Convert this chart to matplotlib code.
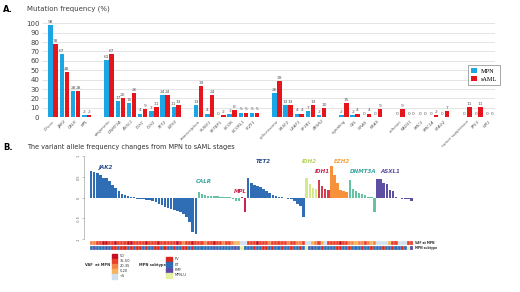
import numpy as np
import matplotlib.pyplot as plt
from matplotlib.patches import Rectangle

W, H = 520, 292

# ---------------- panel A data ----------------
groups = [
    ["Driver", "JAK2", "CALR", "MPL"],
    ["epigenetic", "DNMT3A", "ASXL1", "IDH1", "IDH2", "TET2", "EZH2"],
    ["transcription", "RUNX1", "SETBP1", "BCOR", "BCORL1", "IKZF1"],
    ["spliceosome", "SRSF2", "U2AF1", "SF3B1", "ZRSR2"],
    ["signaling", "CBL", "NRAS", "KRAS"],
    ["cohesin", "RAD21", "SMC3", "SMC1A", "STAG2"],
    ["tumor suppressor", "TP53", "WT1"],
]
mpn = [98, 67, 28, 2,
       61, 17, 15, 4, 7, 24, 11,
       13, 4, 0, 3, 5, 5,
       26, 13, 4, 7, 2,
       2, 2, 0, 0,
       0, 0, 0, 0, 0,
       0, 0, 0]
saml = [78, 48, 28, 2,
        67, 20, 26, 9, 11, 24, 13,
        33, 24, 2, 8, 5, 5,
        39, 13, 4, 13, 10,
        15, 4, 4, 9,
        9, 0, 0, 2, 7,
        11, 11, 0]

# ---------------- panel B data ----------------
jak2 = [0.64, 0.61, 0.59, 0.55, 0.48, 0.47, 0.40, 0.31, 0.24, 0.17, 0.10, 0.06,
        0.04, 0.02, 0.01, -0.02, -0.02, -0.04, -0.05, -0.06, -0.09, -0.10, -0.14,
        -0.18, -0.22, -0.25, -0.27, -0.30, -0.31, -0.34, -0.40, -0.46, -0.58,
        -0.83, -0.88]
calr = [0.13, 0.08, 0.06, 0.05, 0.04, 0.04, 0.03, 0.02, 0.02, 0.01, 0.01,
        -0.02, -0.08, -0.09]
mpl = [0.02, -0.34]
tet2 = [0.48, 0.36, 0.30, 0.28, 0.25, 0.21, 0.16, 0.11, 0.07, 0.04, 0.02, 0.01,
        -0.01, -0.02, -0.04, -0.08, -0.14, -0.20, -0.46]
idh2 = [0.47, 0.32, 0.23, 0.20]
idh1 = [0.43, 0.27, 0.21, 0.19]
ezh2 = [0.77, 0.55, 0.35, 0.19, 0.15, 0.13]
dnmt3a = [0.43, 0.20, 0.17, 0.12, 0.08, 0.06, 0.02, 0.01, -0.34]
asxl1 = [0.44, 0.44, 0.35, 0.32, 0.19, 0.17, 0.01, -0.01, -0.02, -0.03, -0.03, -0.08]

gene_names = ["JAK2", "CALR", "MPL", "TET2", "IDH2", "IDH1", "EZH2", "DNMT3A", "ASXL1"]
gene_vals = [jak2, calr, mpl, tet2, idh2, idh1, ezh2, dnmt3a, asxl1]

# VAF at MPN: a=50, b=35-50, c=20-35, d=5-20, e=<5
vaf_codes = ("ccbba abbab bbaab bbbab bbabb bbbab cbbab"
             " bbcbb abbcb bcdd  ee"
             " bbbab bbcbb bbbcb bccb  eedc  bdeb  bbbabb"
             " ccdcc bcdc  eeeed bbeee bb")
# MPN subtype: P=PV, E=ET, F=PMF, U=MPN-U
sub_codes = ("EFEEE FEPPE PPEPE PPEPE EPPEP EEPEE PPEPE"
             " EEEEE FEEEE EEFE  UE"
             " EEPEE PPEPE EPEEP EEPE  UEFE  EPEE  EEPPEE"
             " PEEEP EEPE  EEPEE PEEPE UF")
vaf_labels = ["50", "35-50", "20-35", "5-20", "<5"]
sub_labels = ["PV", "ET", "PMF", "MPN-U"]

# ---------------- styles ----------------
c_mpn = "#1BA6E6"
c_saml = "#E8141C"
vaf_col = {"a": "#C4101E", "b": "#EA3F2A", "c": "#F4844A", "d": "#F6B35A", "e": "#CFE0EE"}
sub_col = {"P": "#D7261E", "E": "#2E6DB4", "F": "#5B4BA6", "U": "#E6F0A0"}
gene_style = {
    "JAK2": ("#2F6DB5", "#2A4E8C", 2.5, 0.72, "left"),
    "CALR": ("#66C2A5", "#3AA59E", -1.0, 0.38, "left"),
    "MPL": ("#C7254E", "#C7254E", -0.6, 0.16, "center"),
    "TET2": ("#2F6DB5", "#2A4E8C", 5.0, 0.88, "center"),
    "IDH2": ("#D4EA8A", "#B5D45A", 0.8, 0.88, "center"),
    "IDH1": ("#D53E4F", "#C7254E", 1.0, 0.62, "center"),
    "EZH2": ("#F7923A", "#F5A040", 3.5, 0.88, "center"),
    "DNMT3A": ("#66C2A5", "#3AA59E", 4.5, 0.62, "center"),
    "ASXL1": ("#5E4FA2", "#5E4FA2", 4.0, 0.62, "center"),
}


def fx(px):
    return px / W


def fy(py):
    return 1 - py / H


fig = plt.figure(figsize=(W / 100, H / 100), dpi=100)

# ================= panel A =================
fig.text(fx(3), fy(9), "A.", fontsize=6, fontweight="bold", va="center")
fig.text(fx(27), fy(9), "Mutation frequency (%)", fontsize=5, color="#404040", va="center")

axA = fig.add_axes([fx(42), fy(117.3), fx(495 - 42), (117.3 - 23.3) / H])
pos = []
labels = []
slot = 0
for g in groups:
    for name in g:
        pos.append(slot)
        labels.append(name)
        slot += 1
    slot += 1
pos = np.array(pos, dtype=float)

bw = 0.4
axA.bar(pos - 0.22, mpn, width=bw, color=c_mpn, zorder=3, label="MPN")
axA.bar(pos + 0.22, saml, width=bw, color=c_saml, zorder=3, label="sAML")
for x, a, b in zip(pos, mpn, saml):
    axA.text(x - 0.22, a + 1.2, str(a), ha="center", va="bottom", fontsize=3.2, color="#595959")
    axA.text(x + 0.22, b + 1.2, str(b), ha="center", va="bottom", fontsize=3.2, color="#595959")

axA.set_xlim(-1, 39.5)
axA.set_ylim(0, 100)
axA.set_yticks(range(0, 101, 10))
axA.yaxis.grid(True, color="#D9D9D9", lw=0.5, zorder=0)
axA.set_xticks(pos)
axA.set_xticklabels(labels, rotation=45, ha="right", rotation_mode="anchor",
                    fontsize=3, color="#595959", fontstyle="italic")
axA.tick_params(axis="both", length=0, pad=1.5)
axA.tick_params(axis="y", labelsize=5, labelcolor="#404040", pad=2)
for s in axA.spines.values():
    s.set_visible(False)

leg = axA.legend(loc="upper left", bbox_to_anchor=(fx(465 - 42) / fx(495 - 42), 1 - (62 - 23.3) / 94),
                 prop={"family": "Liberation Serif", "size": 4.5}, frameon=True, fancybox=False,
                 edgecolor="#7F7F7F", handlelength=0.9, handleheight=0.9, borderpad=0.5,
                 labelspacing=0.3, handletextpad=0.6)
leg.get_frame().set_linewidth(0.6)
for h in leg.legend_handles:
    if h.get_label() == "MPN":
        h.set_color("#1F5FA8")

# ================= panel B =================
fig.text(fx(3), fy(147), "B.", fontsize=6, fontweight="bold", va="center")
fig.text(fx(27), fy(147), "The variant allele frequency changes from MPN to sAML stages",
         fontsize=4.7, color="#303030", va="center")

vals = []
cols = []
starts = {}
for name, v in zip(gene_names, gene_vals):
    starts[name] = len(vals)
    vals += v
    cols += [gene_style[name][0]] * len(v)
n = len(vals)
vaf = "".join(vaf_codes.split())
sub = "".join(sub_codes.split())

pitch = 3.08
unit = 41.5
zero_py = 197.7
xmin, xmax = -2.3, n + 0.2
ymin, ymax = -1.27, 1.03
axB = fig.add_axes([fx(84), fy(zero_py - ymin * unit), (xmax - xmin) * pitch / W,
                    (ymax - ymin) * unit / H])
xs = np.arange(n)
axB.bar(xs, vals, width=0.82, color=cols, zorder=3)
axB.bar(xs, [0.1] * n, bottom=-1.145, width=1.0,
        color=[vaf_col[c] for c in vaf], edgecolor="white", linewidth=0.15)
axB.bar(xs, [0.1] * n, bottom=-1.255, width=1.0,
        color=[sub_col[c] for c in sub], edgecolor="white", linewidth=0.15)
axB.text(n + 0.3, -1.095, "VAF at MPN", fontsize=2.2, fontweight="bold", va="center", color="#303030")
axB.text(n + 0.3, -1.205, "MPN subtype", fontsize=2.2, fontweight="bold", va="center", color="#303030")

for name in gene_names:
    bc, lc, dx, ly, ha = gene_style[name]
    axB.text(starts[name] + dx, ly, name, color=lc, fontsize=4, fontstyle="italic",
             fontweight="bold", ha=ha, va="center")

axB.set_xlim(xmin, xmax)
axB.set_ylim(ymin, ymax)
axB.set_xticks([])
axB.set_yticks([-1, -0.5, 0, 0.5, 1])
axB.set_yticklabels(["-1", "-0.5", "0", "0.5", "1"], rotation=90, va="center",
                    fontsize=2.5, color="#606060")
axB.tick_params(axis="y", length=1.5, width=0.4, pad=1, color="#909090")
for s in ["top", "right", "bottom"]:
    axB.spines[s].set_visible(False)
axB.spines["left"].set_bounds(-1, 1)
axB.spines["left"].set_linewidth(0.4)
axB.spines["left"].set_color("#909090")

# legends for the heatmap rows
fig.text(fx(85), fy(265), "VAF  at MPN", fontsize=2.6, fontweight="bold", va="center", color="#303030")
for i, (code, lab) in enumerate(zip("abcde", vaf_labels)):
    top = 254 + i * 4.9
    fig.patches.append(Rectangle((fx(111.7), fy(top + 4.9)), fx(5.6), 4.9 / H,
                                 transform=fig.transFigure, color=vaf_col[code]))
    fig.text(fx(119.5), fy(top + 2.45), lab, fontsize=2.6, va="center", color="#303030")

fig.text(fx(139), fy(265), "MPN subtype", fontsize=2.6, fontweight="bold", va="center", color="#303030")
for i, (code, lab) in enumerate(zip("PEFU", sub_labels)):
    top = 256.7 + i * 5.4
    fig.patches.append(Rectangle((fx(166), fy(top + 5.0)), fx(5.6), 5.0 / H,
                                 transform=fig.transFigure, color=sub_col[code]))
    fig.text(fx(174.5), fy(top + 2.5), lab, fontsize=2.6, va="center", color="#303030")

fig.savefig("out.png", dpi=100)
